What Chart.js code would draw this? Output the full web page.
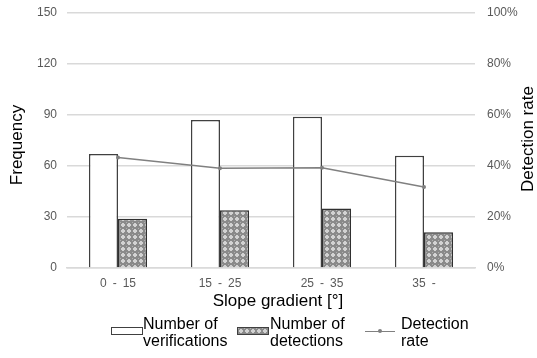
<!DOCTYPE html>
<html>
<head>
<meta charset="utf-8">
<script src="https://cdn.jsdelivr.net/npm/chart.js@4"></script>
<style>
  html, body { margin: 0; padding: 0; background: #fff; }
  #wrap { position: relative; width: 537px; height: 358px; }
  #chart { position: absolute; left: 0; top: 0; }
  .legend { position: absolute; top: 315px; font: 16px "Liberation Sans", Arial, sans-serif; color: #000; line-height: 17px; }
  .legend .sw { position: absolute; }
  .legend .txt { position: absolute; white-space: nowrap; }
</style>
</head>
<body>
<div id="wrap">
  <canvas id="chart" width="537" height="358"></canvas>
  <div class="legend" style="left:0;width:537px;height:40px;">
    <div class="sw" style="left:111px;top:12px;width:30px;height:6px;border:1.5px solid #404040;background:#fff;"></div>
    <div class="txt" style="left:143px;top:0;">Number of<br>verifications</div>
    <div class="sw" id="patsw" style="left:237px;top:12px;width:30px;height:6px;border:1.5px solid #404040;"></div>
    <div class="txt" style="left:270px;top:0;">Number of<br>detections</div>
    <div class="sw" style="left:365px;top:15.5px;width:30px;height:1.5px;background:#808080;"></div>
    <div class="sw" style="left:378px;top:14px;width:4px;height:4px;border-radius:2px;background:#808080;"></div>
    <div class="txt" style="left:401px;top:0;">Detection<br>rate</div>
  </div>
</div>
<script>
// Slope classes and counts
const categories = ['0\u2002-\u200215', '15\u2002-\u200225', '25\u2002-\u200235', '35\u2002-'];
const verifications = [67, 87, 89, 66];
const detections = [29, 34, 35, 21];
const detectionRate = [43.3, 39.1, 39.3, 31.8];   // percent
const countTicks = [0, 30, 60, 90, 120, 150];
const rateTicks = [0, 20, 40, 60, 80, 100];

// Cross-hatched fill for the detections bars
function makePattern() {
  const p = document.createElement('canvas');
  p.width = 6; p.height = 6;
  const g = p.getContext('2d');
  g.fillStyle = '#8a8a8a';
  g.fillRect(0, 0, 6, 6);
  g.fillStyle = '#d2d2d2';
  g.fillRect(2, 1, 2, 4);
  g.fillRect(1, 2, 4, 2);
  g.fillStyle = '#b0b0b0';
  g.fillRect(0, 0, 1, 1);
  return p;
}
const patCanvas = makePattern();
const ctx = document.getElementById('chart').getContext('2d');
const pattern = ctx.createPattern(patCanvas, 'repeat');
document.getElementById('patsw').style.background = 'url(' + patCanvas.toDataURL() + ')';

const FONT = '"Liberation Sans", Arial, sans-serif';

// Axis titles
const axisTitles = {
  id: 'axisTitles',
  afterDraw(chart) {
    const c = chart.ctx;
    c.save();
    c.font = '17px ' + FONT;
    c.fillStyle = '#000';
    c.textAlign = 'center';
    c.textBaseline = 'middle';
    const vertical = (text, x, y) => {
      c.save();
      c.translate(x, y);
      c.rotate(-Math.PI / 2);
      c.fillText(text, 0, 0);
      c.restore();
    };
    vertical('Frequency', 17.5, 145);
    vertical('Detection rate', 528, 139);
    c.textBaseline = 'alphabetic';
    c.fillText('Slope gradient [°]', 278, 306);
    c.restore();
  }
};

// Fixed axis box sizes so the plot area sits where it should
function fixVertical(width) {
  return s => { s.width = width; s.paddingTop = 0; s.paddingBottom = 0; };
}

new Chart(ctx, {
  data: {
    labels: categories,
    datasets: [
      {
        type: 'line',
        label: 'Detection rate',
        data: detectionRate,
        yAxisID: 'yR',
        borderColor: '#808080',
        backgroundColor: '#808080',
        borderWidth: 1.5,
        pointRadius: 2,
        pointBorderWidth: 0,
        tension: 0,
        order: 0
      },
      {
        type: 'bar',
        label: 'Number of verifications',
        data: verifications,
        yAxisID: 'y',
        backgroundColor: '#ffffff',
        borderColor: '#404040',
        borderWidth: 1.5,
        barPercentage: 1,
        categoryPercentage: 0.57,
        order: 1
      },
      {
        type: 'bar',
        label: 'Number of detections',
        data: detections,
        yAxisID: 'y',
        backgroundColor: pattern,
        borderColor: '#303030',
        borderWidth: 1.5,
        barPercentage: 1,
        categoryPercentage: 0.57,
        order: 1
      }
    ]
  },
  options: {
    responsive: false,
    animation: false,
    layout: { padding: { top: 13, bottom: 48, left: 0, right: 0 } },
    plugins: { legend: { display: false }, tooltip: { enabled: false } },
    scales: {
      x: {
        grid: { display: false, drawTicks: false },
        border: { color: '#d9d9d9', width: 1.5 },
        ticks: { color: '#595959', font: { family: FONT, size: 12 }, padding: 8 },
        afterFit(s) { s.height = 42; s.paddingLeft = 0; s.paddingRight = 0; }
      },
      y: {
        position: 'left',
        min: 0, max: 150,
        afterBuildTicks(s) { s.ticks = countTicks.map(v => ({ value: v })); },
        grid: { color: '#d9d9d9', lineWidth: 1.5, drawTicks: false },
        border: { display: false },
        ticks: { color: '#595959', font: { family: FONT, size: 12 }, padding: 10 },
        afterFit: fixVertical(67)
      },
      yR: {
        position: 'right',
        min: 0, max: 100,
        afterBuildTicks(s) { s.ticks = rateTicks.map(v => ({ value: v })); },
        grid: { display: false, drawTicks: false },
        border: { display: false },
        ticks: { color: '#595959', font: { family: FONT, size: 12 }, padding: 12, callback: v => v + '%' },
        afterFit: fixVertical(62)
      }
    }
  },
  plugins: [axisTitles]
});
</script>
</body>
</html>
